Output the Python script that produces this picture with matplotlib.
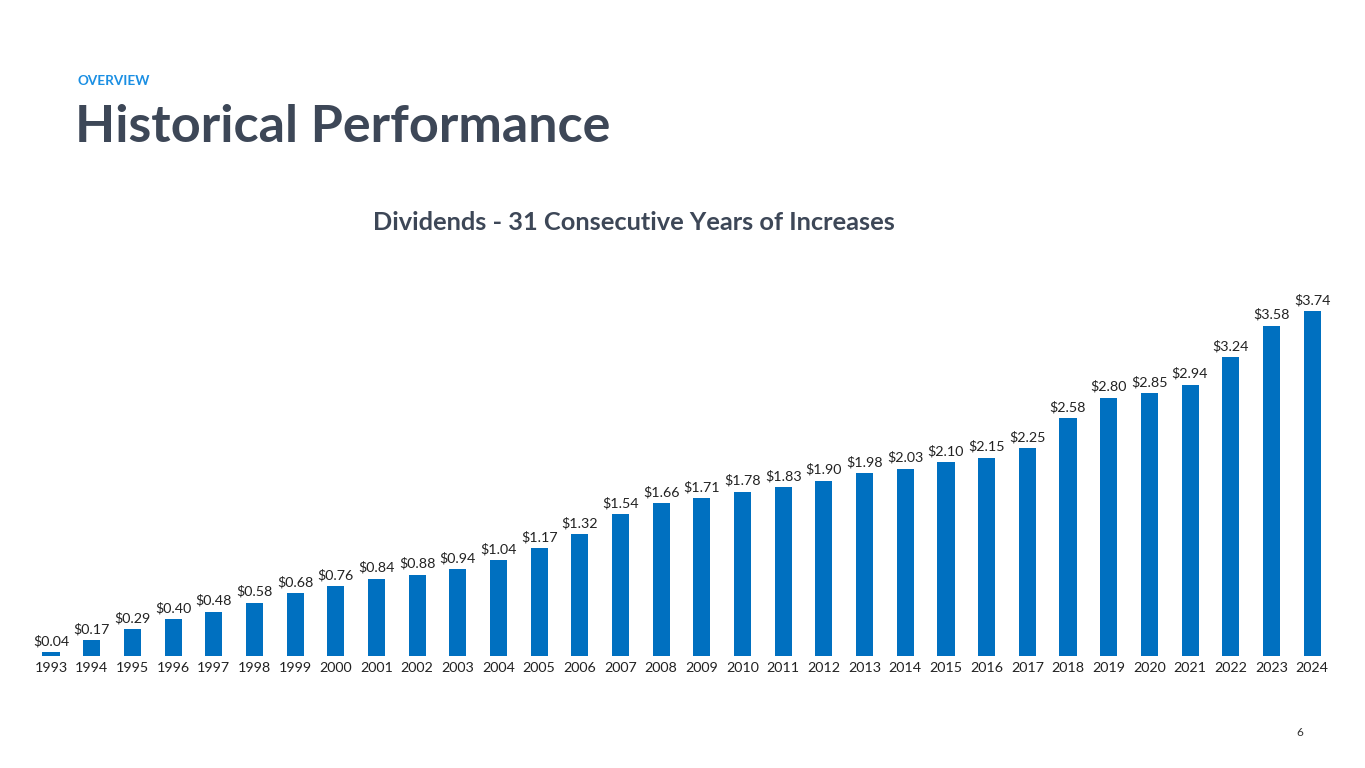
import matplotlib
matplotlib.use("Agg")
import matplotlib.pyplot as plt

years = [str(y) for y in range(1993, 2025)]
dividends = [0.04, 0.17, 0.29, 0.40, 0.48, 0.58, 0.68, 0.76, 0.84, 0.88, 0.94, 1.04,
             1.17, 1.32, 1.54, 1.66, 1.71, 1.78, 1.83, 1.90, 1.98, 2.03, 2.10, 2.15,
             2.25, 2.58, 2.80, 2.85, 2.94, 3.24, 3.58, 3.74]
labels = [f"${v:.2f}" for v in dividends]

W, H = 1365, 768
fig = plt.figure(figsize=(W/100, H/100), dpi=100)
fig.patch.set_facecolor("white")

# axes placement in pixels
left, right = 26.6, 1336.5
bottom, top = 656, 287.1
ax = fig.add_axes([left/W, 1 - bottom/H, (right-left)/W, (bottom-top)/H])
x = list(range(len(years)))
ax.bar(x, dividends, width=0.42, color="#0070C0")
ax.set_xlim(-0.6, len(years) - 0.4)
ax.set_ylim(0, 4.0)
for xi, v, lab in zip(x, dividends, labels):
    ax.annotate(lab, (xi, v), xytext=(0, 3.5), textcoords="offset points",
                ha="center", va="bottom", fontsize=10.3, color="#222222", family="Lato")
ax.set_xticks(x)
ax.set_xticklabels(years, fontsize=10.3, color="#222222", family="Lato")
ax.tick_params(axis="x", length=0, pad=4)
ax.set_yticks([])
for s in ax.spines.values():
    s.set_visible(False)

fig.text(77/W, 1 - 81/H, "OVERVIEW", fontsize=9.7, fontweight="bold", color="#1B8FE3",
         family="Lato", ha="left", va="center")
fig.text(75/W, 1 - 127/H, "Historical Performance", fontsize=37.5, fontweight="bold",
         color="#3D4757", family="Lato", ha="left", va="center")
fig.text(634/W, 1 - 222/H, "Dividends - 31 Consecutive Years of Increases", fontsize=18.3,
         fontweight="bold", color="#3D4757", family="Lato", ha="center", va="center")
fig.text(1300/W, 1 - 733/H, "6", fontsize=8.5, color="#333333", family="Lato",
         ha="center", va="center")

fig.savefig("out.png", dpi=100, facecolor="white")
